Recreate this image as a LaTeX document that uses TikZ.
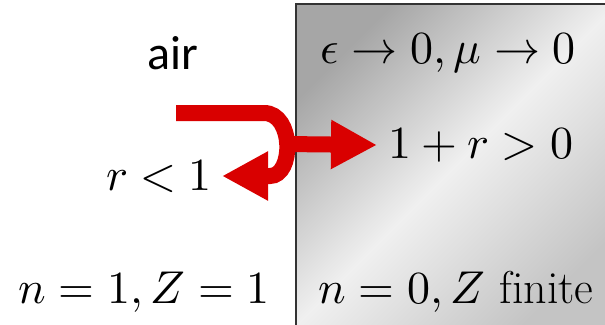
\documentclass[tikz,border=0pt]{standalone}
\usepackage{fontspec}
\usepackage{unicode-math}
\newfontfamily\airfont{Carlito}
\usetikzlibrary{arrows.meta}
\definecolor{arrowred}{RGB}{217,0,0}
\begin{document}
\begin{tikzpicture}[x=1pt,y=-1pt,
  mathlbl/.style={anchor=base, inner sep=0pt, font=\fontsize{46}{52}\selectfont},
  redarrow/.style={draw=arrowred, line width=16pt, -{Triangle[length=46pt,width=46pt]}}]
\useasboundingbox (0,0) rectangle (605,324);
\shade[top color=gray!70, bottom color=gray!46, middle color=gray!12, shading angle=45] (296,4) rectangle (612,330);
\draw[line width=1.6pt, draw=black!80] (612,4) -- (296,4) -- (296,330);
% labels
\node[anchor=base, inner sep=0pt, font=\airfont\fontsize{48}{56}\selectfont] (air) at (173,69) {air};
\node[mathlbl] (mat) at (448,63) {$\epsilon\to 0,\mu\to 0$};
\node[mathlbl] (trans) at (481,158) {$1+r>0$};
\node[mathlbl] (refl) at (159,190) {$r<1$};
\node[mathlbl] (airn) at (144,303) {$n=1,Z=1$};
\node[mathlbl] (matn) at (456,303) {$n=0,Z\ \mathrm{finite}$};
% arrows
\coordinate (inStart) at (176,113);
\coordinate (reflEnd) at (222,176);
\coordinate (tStart) at (284,144);
\coordinate (tEnd) at (377,145);
\draw[redarrow] (tStart) -- (tEnd);
\draw[redarrow] (inStart) -- (264,113) .. controls (294,113) and (294,176) .. (270,176) -- (reflEnd);
\end{tikzpicture}
\end{document}
